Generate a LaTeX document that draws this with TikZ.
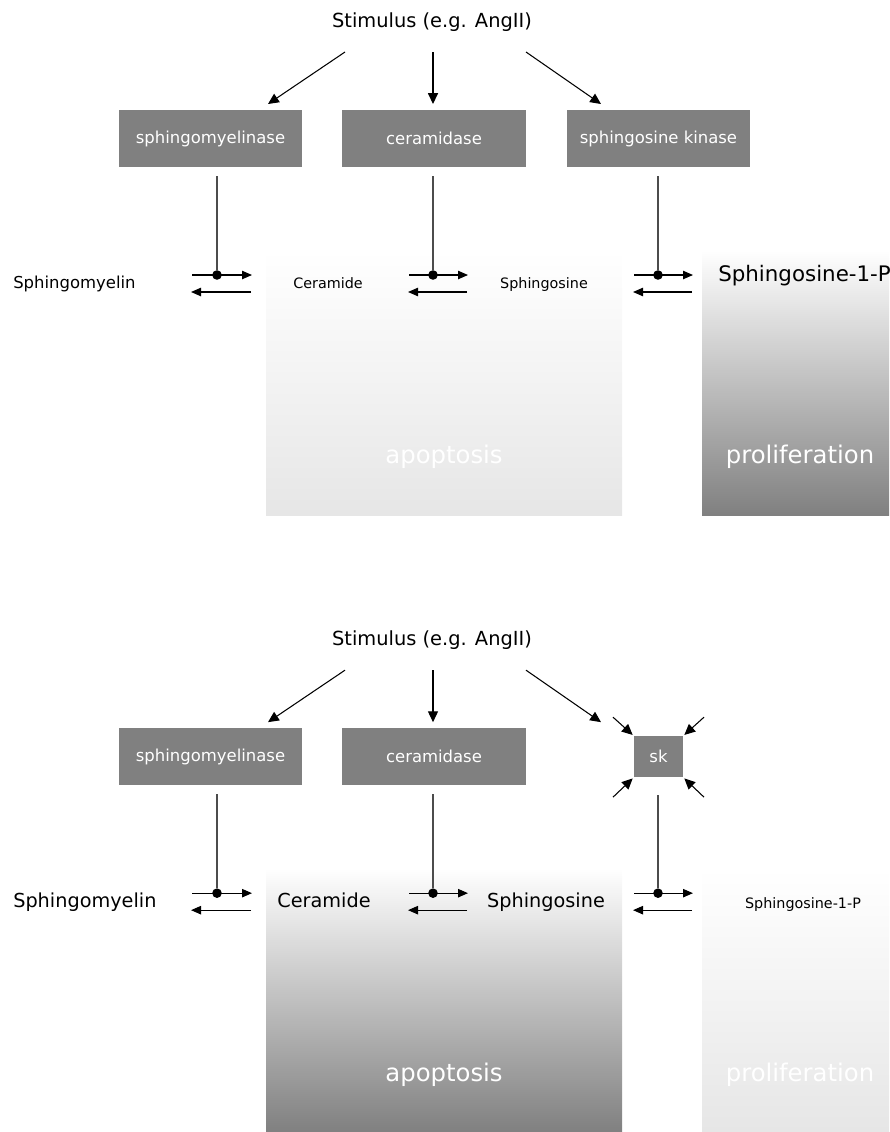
\documentclass[tikz,border=0pt]{standalone}
\usepackage{fontspec}
\setmainfont{DejaVu Sans}
\usetikzlibrary{positioning,arrows.meta}

\definecolor{enzgray}{HTML}{808080}
\definecolor{palegray}{HTML}{E6E6E6}

\tikzset{
  enzyme/.style={fill=enzgray,text=white,inner sep=0pt,
    minimum width=4.575cm,minimum height=1.425cm,
    font=\fontsize{11.7}{14}\selectfont},
  stim/.style={-{Triangle[length=2.7mm,width=2.5mm]},line width=0.75pt},
  rxn/.style={-{Triangle[length=2.5mm,width=2.1mm]},line width=0.8pt},
  link/.style={draw=black!70,line width=0.8pt},
  dot/.style={circle,fill,inner sep=0pt,minimum size=0.24cm},
  stimtext/.style={anchor=base,inner sep=0pt,font=\fontsize{13.8}{16}\selectfont},
  metsmall/.style={anchor=base,inner sep=0pt,font=\fontsize{10.2}{12}\selectfont},
  metlarge/.style={anchor=base,inner sep=0pt,font=\fontsize{13.7}{16}\selectfont},
  fate/.style={anchor=base,inner sep=0pt,text=white,font=\fontsize{17.3}{20}\selectfont},
}

\begin{document}
\begin{tikzpicture}[x=0.025cm,y=-0.025cm]
\useasboundingbox (0,0) rectangle (889,1132);

% ---- upper panel
\shade[top color=white,bottom color=palegray] (266,250) rectangle (622,515);
\shade[top color=white,bottom color=enzgray] (702,250) rectangle (889,515);

\node[stimtext] (stim) at (432,27) {Stimulus (e.g. AngII)};
\node[enzyme] (smase) at (210.5,138.5) {sphingomyelinase};
\node[enzyme] (cdase) at (434,138.5)   {ceramidase};
\node[enzyme] (sphk)  at (658.5,138.5) {sphingosine kinase};

\coordinate (s1) at (345,52);  \coordinate (t1) at (268,104);
\coordinate (s2) at (433,52);  \coordinate (t2) at (433,104);
\coordinate (s3) at (526,52);  \coordinate (t3) at (601,104);
\draw[stim] (s1) -- (t1);
\draw[stim] (s2) -- (t2);
\draw[stim] (s3) -- (t3);

\node[anchor=base west,inner sep=0pt,font=\fontsize{11.7}{14}\selectfont] (sm) at (13,288) {Sphingomyelin};
\node[metsmall] (cer) at (328,288) {Ceramide};
\node[metsmall] (sph) at (544,288) {Sphingosine};
\node[anchor=base west,inner sep=0pt,font=\fontsize{15.2}{18}\selectfont] (s1p) at (718,281) {Sphingosine-1-P};

\node[fate] (apo) at (444,463) {apoptosis};
\node[fate] (pro) at (800,463) {proliferation};

% reactions
\coordinate (r1l) at (192,275); \coordinate (r1r) at (252,275);
\coordinate (r1bl) at (191,292); \coordinate (r1br) at (251,292);
\coordinate (r2l) at (409,275); \coordinate (r2r) at (468,275);
\coordinate (r2bl) at (408,292); \coordinate (r2br) at (467,292);
\coordinate (r3l) at (634,275); \coordinate (r3r) at (693,275);
\coordinate (r3bl) at (633,292); \coordinate (r3br) at (692,292);
\draw[rxn] (r1l) -- (r1r);  \draw[rxn] (r1br) -- (r1bl);
\draw[rxn] (r2l) -- (r2r);  \draw[rxn] (r2br) -- (r2bl);
\draw[rxn] (r3l) -- (r3r);  \draw[rxn] (r3br) -- (r3bl);
\node[dot] (r1) at (217,275) {};
\node[dot] (r2) at (433,275) {};
\node[dot] (r3) at (658,275) {};
\draw[link,shorten <=0.225cm] (r1 |- smase.south) -- (r1);
\draw[link,shorten <=0.225cm] (r2 |- cdase.south) -- (r2);
\draw[link,shorten <=0.225cm] (r3 |- sphk.south)  -- (r3);

% ---- lower panel
\begin{scope}[yshift=-15.45cm]
\shade[top color=white,bottom color=enzgray] (266,250) rectangle (622,514);
\shade[top color=white,bottom color=palegray] (702,250) rectangle (889,514);

\node[stimtext] (bstim) at (432,27) {Stimulus (e.g. AngII)};
\node[enzyme] (bsmase) at (210.5,138.5) {sphingomyelinase};
\node[enzyme] (bcdase) at (434,138.5)   {ceramidase};
\node[enzyme,minimum width=1.225cm,minimum height=1.025cm] (bsk) at (658.5,138.5) {sk};

\coordinate (bs1) at (345,52);  \coordinate (bt1) at (268,104);
\coordinate (bs2) at (433,52);  \coordinate (bt2) at (433,104);
\coordinate (bs3) at (526,52);  \coordinate (bt3) at (601,104);
\draw[stim] (bs1) -- (bt1);
\draw[stim] (bs2) -- (bt2);
\draw[stim] (bs3) -- (bt3);

\coordinate (k1) at (613,99);  \coordinate (k2) at (704,99);
\coordinate (k3) at (613,179); \coordinate (k4) at (704,179);
\draw[stim,shorten >=1pt] (k1) -- (bsk.north west);
\draw[stim,shorten >=1pt] (k2) -- (bsk.north east);
\draw[stim,shorten >=1pt] (k3) -- (bsk.south west);
\draw[stim,shorten >=1pt] (k4) -- (bsk.south east);

\node[anchor=base west,inner sep=0pt,font=\fontsize{13.7}{16}\selectfont] (bsm) at (13,289) {Sphingomyelin};
\node[metlarge] (bcer) at (324,289) {Ceramide};
\node[metlarge] (bsph) at (546,289) {Sphingosine};
\node[metsmall] (bs1p) at (803,290) {Sphingosine-1-P};

\node[fate] (bapo) at (444,463) {apoptosis};
\node[fate] (bpro) at (800,463) {proliferation};

\coordinate (br1l) at (192,275); \coordinate (br1r) at (252,275);
\coordinate (br1bl) at (191,292); \coordinate (br1br) at (251,292);
\coordinate (br2l) at (409,275); \coordinate (br2r) at (468,275);
\coordinate (br2bl) at (408,292); \coordinate (br2br) at (467,292);
\coordinate (br3l) at (634,275); \coordinate (br3r) at (693,275);
\coordinate (br3bl) at (633,292); \coordinate (br3br) at (692,292);
\draw[rxn] (br1l) -- (br1r);  \draw[rxn] (br1br) -- (br1bl);
\draw[rxn] (br2l) -- (br2r);  \draw[rxn] (br2br) -- (br2bl);
\draw[rxn] (br3l) -- (br3r);  \draw[rxn] (br3br) -- (br3bl);
\node[dot] (br1) at (217,275) {};
\node[dot] (br2) at (433,275) {};
\node[dot] (br3) at (658,275) {};
\draw[link,shorten <=0.225cm] (br1 |- bsmase.south) -- (br1);
\draw[link,shorten <=0.225cm] (br2 |- bcdase.south) -- (br2);
\draw[link,shorten <=0.45cm]  (br3 |- bsk.south)    -- (br3);
\end{scope}
\end{tikzpicture}
\end{document}
